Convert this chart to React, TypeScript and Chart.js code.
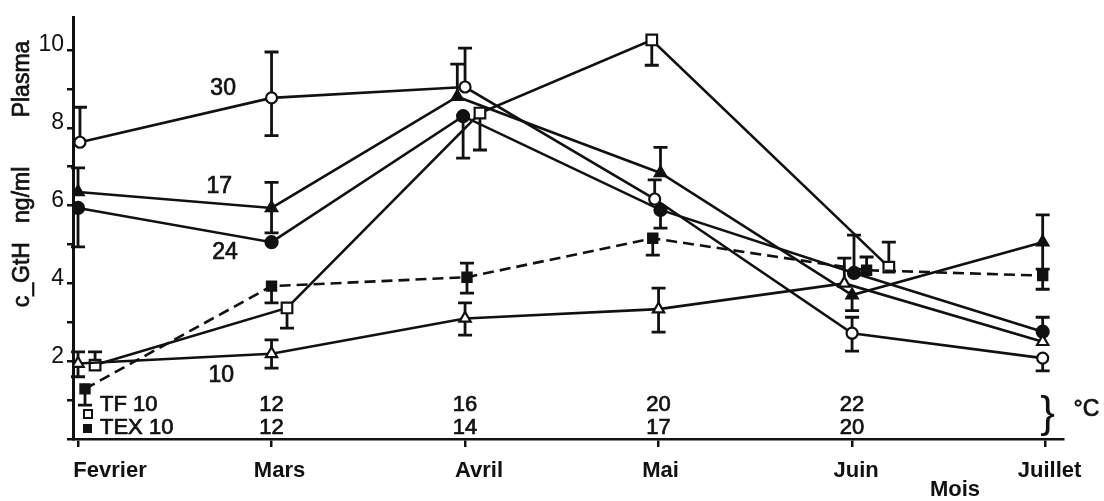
import { useEffect, useRef } from 'react';
import { Chart, registerables } from 'chart.js';
Chart.register(...registerables);

// ---- data ----
const months = ['Fevrier', 'Mars', 'Avril', 'Mai', 'Juin', 'Juillet'];
const tfTemps = ['10', '12', '16', '20', '22'];
const texTemps = ['10', '12', '14', '17', '20'];

// series "30" (open circles)
const s30Pos = [0.01, 1.0, 2.0, 2.98, 4.0, 4.985];
const s30Val = [7.63, 8.77, 9.05, 6.17, 2.72, 2.08];
const s30Hi = [8.53, 9.95, 10.05, 6.66, 3.13, null];
const s30Lo = [null, 7.8, null, null, 2.26, 1.75];

// series "17" (filled triangles)
const s17Pos = [0.0, 1.0, 1.96, 3.01, 4.0, 4.985];
const s17Val = [6.35, 5.94, 8.8, 6.84, 3.7, 5.06];
const s17Hi = [6.97, 6.6, 9.64, 7.5, null, 5.76];
const s17Lo = [null, 5.3, null, null, 3.3, 4.37];

// series "24" (filled circles)
const s24Pos = [0.0, 1.0, 1.99, 3.01, 4.01, 4.985];
const s24Val = [5.94, 5.06, 8.3, 5.89, 4.27, 2.76];
const s24Hi = [null, null, null, null, 5.24, 3.13];
const s24Lo = [4.94, null, 7.22, 5.42, null, null];

// series "10" (open triangles)
const s10Pos = [0.0, 1.0, 2.0, 3.0, 3.96, 4.985];
const s10Val = [1.94, 2.19, 3.1, 3.34, 4.0, 2.5];
const s10Hi = [2.24, 2.55, 3.5, 3.88, 4.65, null];
const s10Lo = [1.6, 1.82, 2.67, 2.75, null, null];

// TF 10 (open squares, solid)
const tfPos = [0.088, 1.08, 2.077, 2.965, 4.19];
const tfVal = [1.9, 3.37, 8.38, 10.26, 4.42];
const tfHi = [2.24, null, null, null, 5.06];
const tfLo = [null, 2.85, 7.43, 9.61, null];

// TEX 10 (filled squares, dashed)
const texPos = [0.036, 1.0, 2.01, 2.97, 4.075, 4.985];
const texVal = [1.29, 3.93, 4.16, 5.16, 4.34, 4.2];
const texHi = [null, null, 4.52, null, 4.68, null];
const texLo = [0.87, 3.5, 3.75, 4.73, null, 3.85];

type S = { pos: number[]; val: number[]; hi: (number | null)[]; lo: (number | null)[] };
const errSeries: S[] = [
  { pos: s30Pos, val: s30Val, hi: s30Hi, lo: s30Lo },
  { pos: s17Pos, val: s17Val, hi: s17Hi, lo: s17Lo },
  { pos: s24Pos, val: s24Val, hi: s24Hi, lo: s24Lo },
  { pos: s10Pos, val: s10Val, hi: s10Hi, lo: s10Lo },
  { pos: tfPos, val: tfVal, hi: tfHi, lo: tfLo },
  { pos: texPos, val: texVal, hi: texHi, lo: texLo },
];

const pts = (p: number[], v: number[]) => p.map((x, i) => ({ x, y: v[i] }));
const FONT = 'Liberation Sans, Arial, sans-serif';
const INK = '#111';

const errPlugin = {
  id: 'errbars',
  beforeDatasetsDraw(chart: any) {
    const { ctx, scales } = chart;
    const x = scales.x, y = scales.y;
    ctx.save();
    ctx.strokeStyle = INK;
    ctx.lineWidth = 2.8;
    errSeries.forEach((s) => {
      s.pos.forEach((p, i) => {
        const px = x.getPixelForValue(p);
        const py = y.getPixelForValue(s.val[i]);
        [s.hi[i], s.lo[i]].forEach((e) => {
          if (e == null) return;
          const pe = y.getPixelForValue(e);
          ctx.beginPath();
          ctx.moveTo(px, py);
          ctx.lineTo(px, pe);
          ctx.moveTo(px - 7, pe);
          ctx.lineTo(px + 7, pe);
          ctx.stroke();
        });
      });
    });
    ctx.restore();
  },
};

function txt(ctx: any, t: string, x: number, y: number) {
  ctx.fillText(t, x, y);
  ctx.strokeText(t, x, y);
}

const labelPlugin = {
  id: 'labels',
  afterDraw(chart: any) {
    const { ctx, scales, chartArea } = chart;
    const x = scales.x, y = scales.y;
    ctx.save();
    ctx.fillStyle = INK;
    ctx.strokeStyle = INK;
    ctx.lineWidth = 0.7;
    ctx.textBaseline = 'middle';

    // series labels
    ctx.font = `23px ${FONT}`;
    ctx.textAlign = 'center';
    const serLabels: [string, number, number][] = [
      ['30', 0.75, 9.02],
      ['17', 0.73, 6.5],
      ['24', 0.76, 4.78],
      ['10', 0.74, 1.62],
    ];
    serLabels.forEach(([t, mx, vy]) => txt(ctx, t, x.getPixelForValue(mx), y.getPixelForValue(vy)));

    // temperature rows
    const b = chartArea.bottom;
    const r1 = b - 34, r2 = b - 11;
    ctx.font = `22px ${FONT}`;
    ctx.textAlign = 'left';
    txt(ctx, 'TF ' + tfTemps[0], 100, r1);
    txt(ctx, 'TEX ' + texTemps[0], 100, r2);
    ctx.textAlign = 'center';
    for (let i = 1; i < tfTemps.length; i++) txt(ctx, tfTemps[i], x.getPixelForValue(i), r1);
    for (let i = 1; i < texTemps.length; i++) txt(ctx, texTemps[i], x.getPixelForValue(i), r2);
    // small legend markers
    ctx.lineWidth = 2;
    ctx.fillStyle = '#fff';
    ctx.fillRect(84, r1 + 5, 8, 8);
    ctx.strokeRect(84, r1 + 5, 8, 8);
    ctx.fillStyle = INK;
    ctx.fillRect(83, r2 - 4, 9, 9);
    ctx.lineWidth = 0.7;

    // brace and unit
    const jx = x.getPixelForValue(5);
    ctx.font = `44px ${FONT}`;
    ctx.textAlign = 'center';
    ctx.fillText('}', jx + 2, b - 24);
    ctx.font = `23px ${FONT}`;
    ctx.textAlign = 'left';
    txt(ctx, '°C', jx + 28, b - 29);

    // month labels
    ctx.font = `bold 22px ${FONT}`;
    ctx.textAlign = 'center';
    const offs = [32, 8, 14, 2, 4, 4];
    months.forEach((m, i) => ctx.fillText(m, x.getPixelForValue(i) + offs[i], b + 32));
    ctx.fillText('Mois', 955, b + 51);

    // y axis title
    ctx.save();
    ctx.translate(23, 0);
    ctx.rotate(-Math.PI / 2);
    ctx.font = `23px ${FONT}`;
    ctx.textAlign = 'center';
    txt(ctx, 'Plasma', -79, 0);
    txt(ctx, 'c_GtH   ng/ml', -237, 0);
    ctx.restore();

    ctx.restore();
  },
};

export default function App() {
  const ref = useRef<HTMLCanvasElement>(null);
  useEffect(() => {
    const mk = (
      label: string,
      p: number[],
      v: number[],
      style: string,
      filled: boolean,
      radius: number,
      dash: number[] = []
    ) => ({
      label,
      data: pts(p, v),
      borderColor: INK,
      borderWidth: 2.6,
      borderDash: dash,
      pointStyle: style,
      pointRadius: radius,
      pointHoverRadius: radius,
      pointBackgroundColor: filled ? INK : '#fff',
      pointBorderColor: INK,
      pointBorderWidth: 2.2,
      tension: 0,
      fill: false,
    });
    const chart = new Chart(ref.current!, {
      type: 'line',
      data: {
        datasets: [
          mk('TEX 10', texPos, texVal, 'rect', true, 6.5, [11, 6]),
          mk('10', s10Pos, s10Val, 'triangle', false, 6.5),
          mk('TF 10', tfPos, tfVal, 'rect', false, 7.5),
          mk('24', s24Pos, s24Val, 'circle', true, 6),
          mk('17', s17Pos, s17Val, 'triangle', true, 6.5),
          mk('30', s30Pos, s30Val, 'circle', false, 5.5),
        ] as any,
      },
      options: {
        animation: false,
        responsive: true,
        maintainAspectRatio: false,
        layout: { padding: { top: 17, right: 41, left: 0, bottom: 0 } },
        plugins: { legend: { display: false }, tooltip: { enabled: false } },
        scales: {
          x: {
            type: 'linear',
            min: -0.026,
            max: 5.09,
            afterFit: (s: any) => {
              s.height = 62;
            },
            ticks: { stepSize: 1, includeBounds: false, callback: () => '', font: { size: 1 } },
            grid: { drawOnChartArea: false, drawTicks: true, tickLength: 8, color: INK, lineWidth: 2.5 },
            border: { display: true, color: INK, width: 2.5 },
          },
          y: {
            type: 'linear',
            min: 0,
            max: 10.85,
            afterFit: (s: any) => {
              s.width = 73;
            },
            ticks: {
              stepSize: 1,
              includeBounds: false,
              color: INK,
              padding: 3,
              labelOffset: -5,
              font: { family: FONT, size: 23 },
              callback: (v: any) => (v !== 0 && v % 2 === 0 ? String(v) : ''),
            },
            grid: { drawOnChartArea: false, drawTicks: true, tickLength: 6, color: INK, lineWidth: 2.5 },
            border: { display: true, color: INK, width: 3 },
          },
        },
      } as any,
      plugins: [errPlugin, labelPlugin],
    });
    return () => chart.destroy();
  }, []);
  return (
    <div style={{ position: 'fixed', left: 0, top: 0, width: 1104, height: 501, background: '#fff' }}>
      <canvas ref={ref} />
    </div>
  );
}
